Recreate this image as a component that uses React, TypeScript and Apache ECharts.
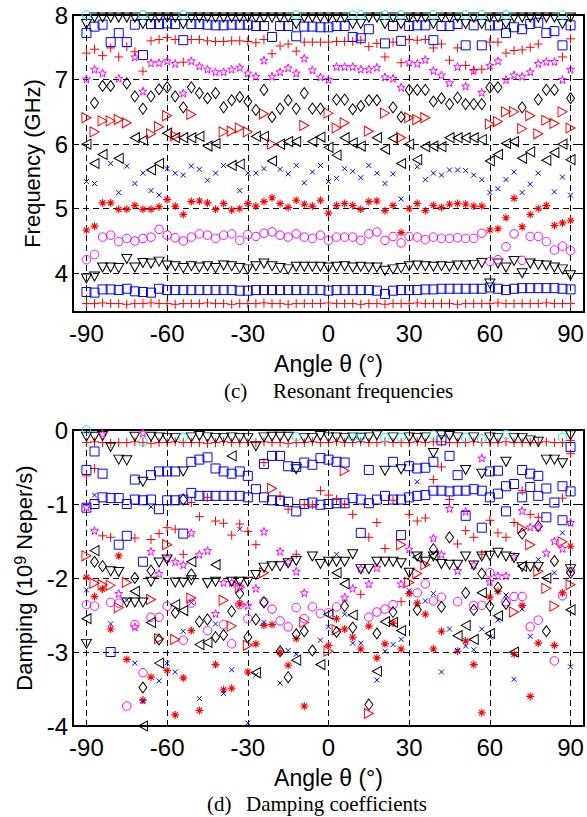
import React, { useEffect, useRef } from 'react';
import * as echarts from 'echarts';

// Angle samples (degrees)
const angles = [
  -90, -87, -84, -81, -78, -75, -72, -69, -66, -63,
  -60, -57, -54, -51, -48, -45, -42, -39, -36, -33,
  -30, -27, -24, -21, -18, -15, -12, -9, -6, -3,
  0, 3, 6, 9, 12, 15, 18, 21, 24, 27,
  30, 33, 36, 39, 42, 45, 48, 51, 54, 57,
  60, 63, 66, 69, 72, 75, 78, 81, 84, 87,
  90,
];

const xTicks = [-90, -60, -30, 0, 30, 60, 90];
const freqTicks = [4, 5, 6, 7, 8];
const dampTicks = [-4, -3, -2, -1, 0];

// ---------- (c) Resonant frequencies (GHz) ----------
const freq1 = [3.53,3.53,3.54,3.53,3.53,3.52,3.53,3.53,3.54,3.53, 3.53,3.52,3.53,3.53,3.53,3.54,3.53,3.53,3.52,3.53, 3.53,3.53,3.54,3.53,3.53,3.52,3.53,3.53,3.53,3.53, 3.54,3.53,3.53,3.53,3.52,3.53,3.53,3.52,3.53,3.53, 3.53,3.54,3.53,3.53,3.53,3.53,3.52,3.53,3.53,3.53, 3.53,3.54,3.53,3.53,3.53,3.53,3.53,3.54,3.53,3.53,3.53];
const freq2 = [3.71,3.70,3.75,3.75,3.74,3.76,3.72,3.71,3.70,3.76, 3.74,3.74,3.74,3.74,3.74,3.74,3.74,3.74,3.74,3.73, 3.73,3.74,3.74,3.74,3.74,3.74,3.74,3.74,3.74,3.74, 3.73,3.74,3.74,3.74,3.74,3.74,3.73,3.68,3.73,3.74, 3.74,3.74,3.75,3.75,3.76,3.76,3.76,3.76,3.76,3.76, 3.78,3.76,3.74,3.76,3.77,3.77,3.77,3.77,3.77,3.76,3.75];
const freq3 = [3.92,3.95,4.09,4.09,4.08,4.22,4.09,4.16,4.15,4.18, 4.12,4.11,4.08,4.11,4.09,4.11,4.08,4.12,4.11,4.08, 4.06,4.11,4.15,4.11,4.08,4.06,4.1,4.1,4.1,4.1, 4.09,4.1,4.11,4.09,4.1,4.09,4.09,4.04,4.06,4.08, 4.11,4.12,4.11,4.1,4.11,4.1,4.12,4.12,4.13,4.16, 3.84,4.15,4.09,4.19,4.0,4.15,4.13,4.12,4.09,4.06,3.97];
const freq4 = [4.21,4.29,4.56,4.59,4.49,4.54,4.5,4.54,4.56,4.68, 4.59,4.55,4.5,4.56,4.61,4.59,4.54,4.59,4.61,4.51, 4.6,4.57,4.62,4.64,4.59,4.56,4.61,4.56,4.54,4.59, 4.51,4.56,4.56,4.56,4.51,4.61,4.64,4.51,4.57,4.47, 4.57,4.56,4.52,4.56,4.54,4.54,4.55,4.54,4.54,4.62, 4.18,4.21,4.41,4.61,4.2,4.57,4.57,4.49,4.36,4.42,4.35];
const freq5 = [4.67,4.73,5.09,5.09,4.99,4.99,5.05,4.99,4.99,5.03, 5.14,5.04,4.91,5.11,5.12,5.09,4.99,5.08,4.98,5.0, 5.08,5.04,5.11,5.17,5.08,5.02,5.13,5.07,5.04,5.13, 4.93,5.05,5.08,5.05,4.99,5.11,5.12,4.97,5.05,4.63, 5.0,5.08,4.97,5.05,5.02,5.07,5.08,5.07,5.04,5.04, 4.67,4.69,4.86,5.16,4.72,4.91,5.0,5.05,4.74,4.78,4.82];
const freq6 = [5.42,5.39,null,5.7,5.25,5.66,5.39,5.55,5.28,5.21, 5.62,5.55,5.52,5.66,5.61,5.44,5.55,5.67,null,5.28, 5.55,5.55,5.62,null,5.61,5.54,5.67,5.4,5.57,5.67, 5.42,5.47,5.62,5.58,5.48,5.67,5.55,5.39,5.54,5.15, null,5.65,5.45,5.55,5.52,5.6,5.6,5.59,5.52,5.45, 5.25,5.31,5.45,5.57,5.25,5.38,5.55,null,5.26,5.49,5.21];
const freq7 = [6.0,5.7,5.84,null,5.78,null,6.1,6.06,5.6,5.7, 6.17,6.1,6.1,6.1,6.12,5.97,6.01,null,5.67,5.69, null,6.12,6.12,5.74,6.0,6.04,6.04,null,6.04,6.11, 5.95,5.83,6.1,6.02,5.97,null,6.1,5.92,6.09,5.7, 6.0,5.76,5.96,5.97,5.96,6.1,6.1,6.1,6.1,6.07, 5.74,5.84,6.01,6.04,5.78,5.88,null,5.75,5.87,6.0,5.76];
const freq8 = [6.41,6.19,6.36,6.36,6.38,6.33,null,null,6.16,6.27, 6.44,6.13,null,6.46,null,null,null,6.19,6.2,6.25, 6.19,null,6.47,6.0,null,null,null,6.29,null,null, 6.48,6.25,6.33,null,null,6.2,null,6.48,null,6.1, 6.41,6.38,6.41,null,null,null,null,null,null,null, 6.31,6.35,6.5,6.5,6.24,6.44,6.16,6.37,6.32,6.5,6.25];
const freq9 = [null,6.64,6.9,6.9,null,6.94,6.74,6.55,6.74,6.85, 6.88,6.74,6.57,6.88,6.79,6.71,6.79,6.57,6.68,6.73, 6.66,6.53,6.84,6.42,6.55,6.68,6.55,6.79,6.55,6.55, null,6.69,6.69,6.54,6.59,6.68,6.68,null,6.57,6.42, 6.84,6.84,6.84,6.66,6.71,6.62,6.72,6.62,6.62,6.62, 6.88,6.88,null,null,6.57,null,6.69,6.84,6.84,null,6.71];
const freq10 = [7.01,7.16,7.1,null,7.02,null,7.35,6.82,7.26,7.26, 7.29,7.25,6.79,7.29,7.21,7.16,7.12,7.12,7.16,7.19, 7.1,7.05,7.3,7.05,7.12,7.18,7.1,7.33,7.15,7.04, 7.0,7.2,7.2,7.2,7.16,7.16,7.19,7.04,7.02,6.88, 7.27,7.25,7.31,7.14,7.07,6.95,7.2,6.9,7.14,6.8, 7.22,7.29,7.0,7.07,7.05,7.12,7.25,7.28,7.28,7.0,7.16];
const freq11 = [7.41,7.47,7.37,7.49,7.35,7.51,7.43,7.13,7.6,7.62, 7.65,7.62,7.27,7.62,7.62,7.6,7.59,7.59,7.6,7.6, 7.59,7.57,7.62,7.4,7.52,7.55,7.44,7.58,7.58,7.58, 7.58,7.59,7.59,7.59,7.61,7.51,7.56,7.35,7.58,7.26, 7.62,7.61,7.62,7.49,7.55,7.3,7.49,7.22,7.15,7.16, 7.58,7.58,7.41,7.45,7.46,7.5,7.55,null,null,7.35,7.63];
const freq12 = [7.72,7.82,7.85,7.58,7.72,7.58,7.85,7.38,7.86,7.86, 7.87,7.86,7.61,7.86,7.86,7.85,7.84,7.84,7.85,7.85, 7.85,7.83,7.83,7.66,7.83,7.83,7.67,7.82,7.82,7.81, 7.81,7.83,7.83,7.66,7.64,7.78,null,7.56,7.83,7.6, 7.83,7.84,7.84,7.61,7.83,7.83,7.86,7.53,7.84,7.53, 7.84,7.84,7.72,7.81,7.78,7.86,7.88,7.72,7.75,7.53,7.84];
const freq13 = [7.86,7.96,7.96,7.96,7.96,7.96,7.96,7.86,7.96,7.96, 7.96,7.96,7.86,7.96,7.96,7.96,7.96,7.96,7.96,7.96, 7.96,7.96,7.96,7.96,7.96,7.96,7.86,7.96,7.96,7.96, 7.96,7.96,7.96,7.86,7.86,7.96,7.96,7.86,7.96,7.86, 7.96,7.96,7.96,7.86,7.96,7.96,7.96,7.86,7.96,7.86, 7.96,7.96,7.86,7.96,7.96,7.96,7.96,7.96,7.96,7.86,7.96];
const freq14 = [8,null,null,null,null,null,null,8,null,null, null,null,8,null,null,null,null,null,null,null, null,null,null,null,null,null,8,null,null,null, null,null,null,8,8,null,null,8,null,8, null,null,null,8,null,null,null,8,null,8, null,null,8,null,null,null,null,null,null,8,null];

// ---------- (d) Damping coefficients (1e9 Neper/s) ----------
const damp1 = [-0.17,-0.16,-0.17,-0.18,-0.17,-0.17,-0.16,-0.17,-0.18,-0.17, -0.17,-0.16,-0.17,-0.17,-0.17,-0.18,-0.17,-0.16,-0.17,-0.17, -0.17,-0.17,-0.16,-0.17,-0.17,-0.18,-0.17,-0.17,-0.16,-0.17, -0.17,-0.16,-0.17,-0.17,-0.16,-0.17,-0.17,-0.16,-0.17,-0.17, -0.17,-0.16,-0.17,-0.16,-0.16,-0.17,-0.17,-0.17,-0.16,-0.17, -0.17,-0.17,-0.16,-0.17,-0.17,-0.17,-0.17,-0.16,-0.17,-0.17,-0.14];
const damp2 = [-1.05,-1.0,-0.91,-0.92,-0.92,-1.0,-0.94,-0.95,-0.94,-1.07, -0.95,-0.95,-0.94,-0.85,-0.89,-0.89,-0.89,-0.89,-0.89,-0.89, -0.91,-0.8,-0.91,-0.95,-0.96,-0.97,-1.1,-1.0,-0.98,-1.01, -1.0,-0.99,-0.99,-0.92,-0.94,-0.99,-0.94,-0.89,-0.94,-0.94, -0.91,-0.89,-0.88,-0.82,-0.82,-0.83,-0.82,-0.82,-0.8,-0.82, -0.91,-0.86,-0.76,-0.73,-0.91,-0.77,-0.89,-0.79,-0.98,-0.76,-0.83];
const damp3 = [-0.09,-0.09,-0.08,-0.23,-0.4,-0.41,-0.09,-0.7,-0.09,-0.1, -0.11,-0.11,-0.56,-0.1,-0.08,-0.1,-0.11,-0.11,-0.1,-0.11, -0.11,-0.22,-0.1,-0.09,-0.09,-0.09,-0.53,-0.11,-0.11,-0.08, -0.1,-0.1,-0.11,-0.1,-0.11,-0.1,-0.07,-0.55,-0.1,-0.53, -0.1,-0.11,-0.1,-0.31,-0.07,-0.08,-0.1,-0.54,-0.1,-0.59, -0.1,-0.11,-0.43,-0.11,-0.11,-0.14,-0.16,-0.4,-0.4,-0.45,-0.07];
const damp4 = [-2.36,-2.38,null,-2.33,-2.34,-3.73,-2.63,-3.28,-2.53,-2.53, -2.38,null,-2.84,-2.34,null,-2.71,null,-2.63,-2.89,-2.36, -2.55,null,-2.32,-2.42,-2.58,-2.66,-2.4,-2.55,-2.39,-2.48, -2.47,-2.39,null,null,null,-2.53,-2.46,-2.42,-2.36,null, null,-2.2,-2.08,-2.31,-2.26,null,-2.32,null,-2.37,-2.37, -1.93,null,-2.32,-2.25,-2.25,-2.66,-2.57,null,-3.12,-2.24,-1.91];
const damp5 = [-1.99,-2.25,-2.15,-2.69,-1.7,-3.1,null,-3.65,-3.34,null, -3.25,-3.85,-3.35,-2.71,-3.79,null,-3.17,-3.51,-3.49,-2.35, -3.27,-2.89,-2.64,-2.63,-3.0,-3.18,-2.82,-3.73,null,null, -2.91,-2.55,-2.69,-2.8,-2.96,-2.65,-3.08,-2.89,-2.61,-2.96, -2.21,-2.34,-2.49,-2.96,-2.72,null,-2.99,-2.85,-3.17,-3.82, -2.26,-2.18,null,-3.03,-2.37,-3.6,-2.88,null,-2.91,-2.2,-1.57];
const damp6 = [-2.16,-0.88,null,-2.62,null,-2.3,-3.15,-3.67,-1.04,-3.39, -3.15,-3.27,-2.72,-2.33,-3.63,null,-2.62,-3.56,-3.24,-1.34, -3.96,-3.31,-2.6,null,-3.42,-2.98,-3.03,null,null,-2.84, -2.66,-1.68,-2.49,-2.88,-2.88,null,-3.38,-2.99,-2.9,-2.83, -2.17,-0.7,-2.31,-2.21,-3.27,-2.69,-2.98,-2.92,-2.97,-2.69, -2.8,-2.57,-2.23,-3.37,-2.42,-2.79,-1.75,null,-1.93,-1.39,-3.2];
const damp7 = [-2.55,-1.63,null,null,null,null,-2.18,-4.0,-2.6,-3.15, null,-2.36,-2.44,-1.78,-2.9,-2.87,-1.82,null,-0.35,null, null,-3.28,null,null,null,null,-3.11,null,null,-3.17, -2.49,-1.93,-2.08,-2.5,null,null,-3.26,-2.59,-2.6,-2.71, null,-1.72,null,-1.7,null,null,-2.78,-2.64,-2.83,-2.2, -2.75,-2.51,null,-3.0,-1.84,null,null,-2.0,null,null,-2.43];
const damp8 = [-1.7,-2.07,-2.09,-2.1,-2.4,-2.06,null,null,-2.29,-2.82, -1.55,-2.83,null,-2.27,null,null,null,-2.3,-2.65,-2.13, -2.91,null,-1.93,-0.79,null,null,null,-2.6,null,null, -2.99,-2.7,-0.55,null,null,-3.83,null,null,null,-1.55, -2.06,-1.94,-1.82,null,null,null,null,null,null,null, null,null,null,-2.46,-1.33,-1.55,-1.91,-2.14,-2.38,-1.51,-2.09];
const damp9 = [null,-1.78,-1.84,null,null,null,-2.0,-3.48,-1.9,-2.83, null,-2.47,-0.94,-1.95,-2.59,-2.56,-2.8,-2.77,-2.45,-2.21, -2.8,-2.56,-2.33,null,-2.99,-3.34,-2.76,-2.72,-2.98,null, null,-2.73,-2.38,-2.67,null,-3.71,-2.75,null,-2.46,null, null,-2.43,null,-1.61,-2.39,-1.45,null,-2.2,-2.43,-1.94, -2.38,-2.13,-2.35,null,-1.4,null,-1.3,-2.72,-1.77,null,-1.93];
const damp10 = [-1.04,-1.36,-0.05,null,-2.21,null,-2.66,-0.04,-1.64,-1.94, -1.73,-1.78,-1.82,-1.39,-1.68,-1.63,-2.48,-2.06,-2.06,-2.11, -2.37,-2.14,-1.37,null,-1.64,-1.78,-1.91,-2.2,null,null, null,null,-2.26,-2.14,-1.87,-2.08,-1.86,null,null,-2.08, -1.61,null,null,-1.46,-1.68,-1.06,-1.9,-1.1,-1.82,-0.38, -2.05,-1.97,-1.97,-1.71,-1.09,-1.31,-1.31,-1.66,-1.5,-1.6,-1.25];
const damp11 = [-0.62,-0.52,-1.43,-1.45,null,null,-1.46,null,-1.48,-1.4, -1.32,-1.34,-1.68,-0.98,-1.17,-0.91,-1.23,-1.26,-1.42,-1.27, -1.37,-1.55,-0.44,null,-0.89,-1.07,-1.68,-1.01,-1.01,-0.82, -0.88,-0.94,-1.0,-1.14,-2.22,-1.45,-1.25,-1.6,-0.95,-2.32, -1.14,-1.23,-1.19,-0.67,-0.5,-0.94,-1.54,-1.36,-1.45,-1.68, -1.22,-1.39,-1.45,-1.25,-0.82,-1.14,-1.18,null,null,-0.92,-0.32];
const damp12 = [-0.54,-0.29,-0.59,-3.0,-1.55,-1.43,-0.67,-1.78,-0.61,-0.56, -0.56,-0.56,-1.4,-0.43,-0.4,-0.37,-0.52,-0.56,-0.59,-0.56, -0.62,null,-0.46,-0.35,-0.35,-0.49,-0.5,-0.44,-0.47,-0.38, -0.4,-0.43,-0.44,null,-1.39,-0.54,null,null,-0.43,-1.42, -0.49,-0.52,-0.51,-0.43,-0.14,-0.35,-0.61,-1.16,null,-1.32, -0.56,-0.55,-1.1,null,-0.54,-0.59,-0.62,-1.18,null,-1.22,-0.23];
const damp13 = [-2.89,null,null,-1.91,-1.92,-2.33,-2.33,-2.33,-2.05,-1.79, -1.75,-2.06,-2.06,-2.03,null,-2.07,-2.05,null,-2.05,-2.05, -2.05,-1.96,-1.86,-1.84,-1.84,-1.8,-1.77,null,-1.71,-1.81, -1.78,-1.78,-1.78,-1.68,-1.88,-1.88,-1.78,-1.78,-1.78,-1.8, -1.93,-1.71,-1.78,-1.71,-1.81,-1.82,-1.82,-1.71,-1.83,-1.71, -1.7,-1.66,-1.71,-1.73,-1.85,-1.85,-1.85,null,null,null,-1.88];
const damp14 = [0,null,null,null,null,null,null,-0.16,null,null, null,null,-0.1,null,null,null,null,null,null,null, null,null,null,null,null,null,-0.09,null,null,null, null,null,null,-0.09,-0.09,null,null,-0.1,null,-0.1, null,null,null,-0.07,null,null,null,-0.1,null,-0.12, null,null,-0.06,null,null,null,null,null,null,-0.1,null];

const freqSeries = [freq1, freq2, freq3, freq4, freq5, freq6, freq7, freq8, freq9, freq10, freq11, freq12, freq13, freq14];
const dampSeries = [damp1, damp2, damp3, damp4, damp5, damp6, damp7, damp8, damp9, damp10, damp11, damp12, damp13, damp14];

const RED = '#ff0000';
const BLUE = '#0000ff';
const BLK = '#000000';
const MAG = '#ff00ff';
const CYAN = '#00e8f0';

const PLUS = 'path://M0,5L10,5M5,0L5,10';
const CROSS = 'path://M0,0L10,10M0,10L10,0';
const AST = 'path://M5,0L5,10M0,5L10,5M1.6,1.6L8.4,8.4M1.6,8.4L8.4,1.6';
const STAR = 'path://M5,0L6.176,3.382L9.755,3.455L6.902,5.618L7.939,9.045L5,7L2.061,9.045L3.098,5.618L0.245,3.455L3.824,3.382Z';

type Mk = { sym: string; size: number | number[]; color: string; rot?: number; lw?: number };
const markers: Mk[] = [
  { sym: PLUS, size: 9, color: RED },
  { sym: 'rect', size: 9, color: BLUE },
  { sym: 'triangle', size: [10, 9], color: BLK, rot: 180 },
  { sym: 'circle', size: 8.5, color: MAG },
  { sym: AST, size: 8, color: RED, lw: 1.1 },
  { sym: CROSS, size: 5, color: BLUE },
  { sym: 'triangle', size: [10, 9], color: BLK, rot: 90 },
  { sym: 'triangle', size: [10, 9], color: RED, rot: -90 },
  { sym: 'diamond', size: [8, 11], color: BLK },
  { sym: STAR, size: 8, color: MAG },
  { sym: PLUS, size: 9, color: RED },
  { sym: 'rect', size: 9, color: BLUE },
  { sym: 'triangle', size: [10, 9], color: BLK, rot: 180 },
  { sym: 'circle', size: 8.5, color: CYAN },
];

const SANS = '"Liberation Sans", Arial, Helvetica, sans-serif';
const SERIF = '"Liberation Serif", "Times New Roman", serif';

function toData(vals: (number | null)[]) {
  const out: number[][] = [];
  vals.forEach((v, i) => {
    if (v !== null && v !== undefined) out.push([angles[i], v]);
  });
  return out;
}

function buildSeries(sets: (number | null)[][], axisIdx: number) {
  return sets.map((vals, i) => {
    const m = markers[i];
    return {
      type: 'scatter',
      name: 'mode' + (i + 1) + '_' + axisIdx,
      xAxisIndex: axisIdx,
      yAxisIndex: axisIdx,
      data: toData(vals),
      symbol: m.sym,
      symbolSize: m.size,
      symbolRotate: m.rot || 0,
      silent: true,
      itemStyle: { color: 'rgba(0,0,0,0)', borderColor: m.color, borderWidth: m.lw || 1, opacity: 1 },
      z: 3,
    };
  });
}

const dashed = { show: true, lineStyle: { color: '#000', width: 1, type: [6, 4] as any } };
const frameLine = { show: true, onZero: false, lineStyle: { color: '#000', width: 2 } };
const inTick = { show: true, inside: true, length: 6, lineStyle: { color: '#000', width: 1 } };

function mainX(grid: number) {
  return {
    type: 'value', gridIndex: grid, min: -95, max: 95, splitNumber: 6, position: 'bottom',
    axisLine: frameLine, axisTick: inTick, splitLine: dashed,
    axisLabel: {
      margin: 9, color: '#000', fontSize: 24, fontFamily: SANS,
      formatter: (v: number) => (xTicks.indexOf(v) >= 0 ? String(v) : ''),
    },
    name: 'Angle θ (°)', nameLocation: 'middle', nameGap: 40,
    nameTextStyle: { color: '#000', fontSize: 23, fontFamily: SANS },
  };
}
function topX(grid: number) {
  return {
    type: 'value', gridIndex: grid, min: -95, max: 95, splitNumber: 6, position: 'top',
    axisLine: frameLine, axisTick: inTick, splitLine: { show: false }, axisLabel: { show: false },
  };
}

export default function App() {
  const ref = useRef<HTMLDivElement>(null);
  useEffect(() => {
    const chart = echarts.init(ref.current!, null, { renderer: 'svg' });
    const option: any = {
      animation: false,
      backgroundColor: '#ffffff',
      grid: [
        { left: 73, top: 15, width: 513, height: 297 },
        { left: 73, top: 430, width: 513, height: 296 },
      ],
      xAxis: [mainX(0), mainX(1), topX(0), topX(1)],
      yAxis: [
        {
          type: 'value', gridIndex: 0, min: 3.4, max: 8, splitNumber: 5, position: 'left',
          axisLine: frameLine, axisTick: inTick, splitLine: dashed,
          axisLabel: {
            margin: 5, color: '#000', fontSize: 24, fontFamily: SANS,
            formatter: (v: number) => (freqTicks.indexOf(v) >= 0 ? String(v) : ''),
          },
          name: 'Frequency (GHz)', nameLocation: 'middle', nameGap: 30,
          nameTextStyle: { color: '#000', fontSize: 22, fontFamily: SANS },
        },
        {
          type: 'value', gridIndex: 1, min: -4, max: 0, interval: 1, position: 'left',
          axisLine: frameLine, axisTick: inTick, splitLine: dashed,
          axisLabel: {
            margin: 5, color: '#000', fontSize: 24, fontFamily: SANS,
            formatter: (v: number) => (dampTicks.indexOf(v) >= 0 ? String(v) : ''),
          },
          name: '{a|Damping (10}{s|9}{a| Neper/s)}', nameLocation: 'middle', nameGap: 30,
          nameTextStyle: {
            color: '#000', fontSize: 22, fontFamily: SANS,
            rich: {
              a: { fontSize: 22, fontFamily: SANS, color: '#000' },
              s: { fontSize: 16, fontFamily: SANS, color: '#000', verticalAlign: 'top', padding: [0, 0, 8, 0] },
            },
          },
        },
        {
          type: 'value', gridIndex: 0, min: 3.4, max: 8, splitNumber: 5, position: 'right',
          axisLine: frameLine, axisTick: inTick, splitLine: { show: false }, axisLabel: { show: false },
        },
        {
          type: 'value', gridIndex: 1, min: -4, max: 0, interval: 1, position: 'right',
          axisLine: frameLine, axisTick: inTick, splitLine: { show: false }, axisLabel: { show: false },
        },
      ],
      graphic: [
        { type: 'text', x: 224, y: 391, style: { text: '(c)', font: '21px ' + SERIF, fill: '#000', verticalAlign: 'middle' } },
        { type: 'text', x: 273, y: 391, style: { text: 'Resonant frequencies', font: '21px ' + SERIF, fill: '#000', verticalAlign: 'middle' } },
        { type: 'text', x: 207, y: 804, style: { text: '(d)', font: '21px ' + SERIF, fill: '#000', verticalAlign: 'middle' } },
        { type: 'text', x: 246, y: 804, style: { text: 'Damping coefficients', font: '21px ' + SERIF, fill: '#000', verticalAlign: 'middle' } },
      ],
      series: [...buildSeries(freqSeries, 0), ...buildSeries(dampSeries, 1)],
    };
    chart.setOption(option);
    return () => chart.dispose();
  }, []);
  return (
    <div
      ref={ref}
      style={{ position: 'fixed', left: 0, top: 0, width: 587, height: 817, background: '#fff' }}
    />
  );
}
